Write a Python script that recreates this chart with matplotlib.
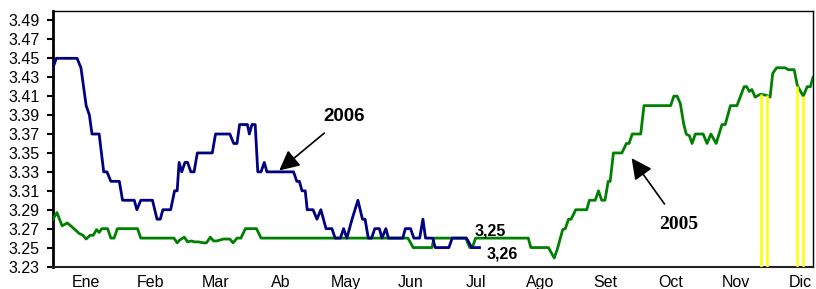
import matplotlib
matplotlib.use("Agg")
import matplotlib.pyplot as plt
import numpy as np

plt.rcParams['font.family'] = ['Liberation Sans', 'DejaVu Sans']

# x positions in fractional months from the start of the axis
months = ["Ene", "Feb", "Mar", "Ab", "May", "Jun", "Jul", "Ago", "Set", "Oct", "Nov", "Dic"]
month_pos = [0.5, 1.5, 2.5, 3.5, 4.5, 5.5, 6.5, 7.5, 8.5, 9.5, 10.5, 11.5]

x2006 = [0.00, 0.05, 0.37, 0.43, 0.51, 0.56, 0.60, 0.71, 0.78, 0.83, 0.89, 1.02, 1.07, 1.25,
         1.29, 1.35, 1.53, 1.60, 1.65, 1.69, 1.81, 1.87, 1.91, 1.94, 1.98, 2.03, 2.07, 2.12,
         2.17, 2.22, 2.45, 2.50, 2.72, 2.78, 2.83, 2.87, 2.99, 3.02, 3.06, 3.11, 3.15, 3.20,
         3.25, 3.29, 3.70, 3.75, 3.79, 3.83, 3.88, 3.91, 4.00, 4.06, 4.12, 4.20, 4.29, 4.34,
         4.42, 4.47, 4.52, 4.60, 4.69, 4.76, 4.80, 4.85, 4.90, 4.95, 5.02, 5.06, 5.12, 5.16,
         5.38, 5.42, 5.50, 5.55, 5.64, 5.69, 5.73, 5.84, 5.88, 6.09, 6.14, 6.36, 6.44, 6.56]
y2006 = [3.44, 3.45, 3.45, 3.44, 3.40, 3.39, 3.37, 3.37, 3.33, 3.33, 3.32, 3.32, 3.30, 3.30,
         3.29, 3.30, 3.30, 3.28, 3.28, 3.29, 3.29, 3.31, 3.31, 3.34, 3.33, 3.34, 3.34, 3.33,
         3.33, 3.35, 3.35, 3.37, 3.37, 3.36, 3.36, 3.38, 3.38, 3.37, 3.38, 3.38, 3.33, 3.33,
         3.34, 3.33, 3.33, 3.32, 3.32, 3.31, 3.31, 3.29, 3.29, 3.28, 3.29, 3.27, 3.27, 3.26,
         3.26, 3.27, 3.26, 3.28, 3.30, 3.28, 3.28, 3.26, 3.26, 3.27, 3.27, 3.26, 3.27, 3.26,
         3.26, 3.27, 3.27, 3.26, 3.26, 3.28, 3.26, 3.26, 3.25, 3.25, 3.26, 3.26, 3.25, 3.25]

x2005 = [0.00, 0.06, 0.14, 0.22, 0.29, 0.40, 0.46, 0.51, 0.57, 0.62, 0.67, 0.71, 0.75, 0.84,
         0.89, 0.94, 0.99, 1.30, 1.35, 1.86, 1.91, 1.95, 2.02, 2.07, 2.13, 2.18, 2.24, 2.31,
         2.36, 2.42, 2.47, 2.52, 2.62, 2.72, 2.77, 2.83, 2.89, 2.96, 3.13, 3.20, 5.46, 5.54,
         5.83, 5.86, 6.35, 6.41, 6.45, 6.50, 7.31, 7.35, 7.62, 7.71, 7.76, 7.84, 7.88, 7.93,
         7.97, 8.04, 8.21, 8.25, 8.34, 8.39, 8.44, 8.49, 8.54, 8.57, 8.62, 8.75, 8.82, 8.86,
         8.91, 9.04, 9.09, 9.50, 9.55, 9.60, 9.65, 9.70, 9.74, 9.79, 9.83, 9.88, 10.00, 10.06,
         10.12, 10.16, 10.20, 10.29, 10.34, 10.42, 10.52, 10.63, 10.67, 10.71, 10.75, 10.80,
         10.88, 10.97, 11.03, 11.07, 11.13, 11.26, 11.31, 11.40, 11.45, 11.54, 11.60, 11.65, 11.69]
y2005 = [3.280, 3.287, 3.273, 3.276, 3.272, 3.265, 3.263, 3.259, 3.263, 3.263, 3.269, 3.266,
         3.270, 3.270, 3.260, 3.260, 3.270, 3.270, 3.260, 3.260, 3.255, 3.258, 3.261, 3.256,
         3.257, 3.256, 3.256, 3.255, 3.255, 3.261, 3.257, 3.257, 3.259, 3.259, 3.255, 3.260,
         3.260, 3.270, 3.270, 3.260, 3.260, 3.250, 3.250, 3.260, 3.260, 3.250, 3.250, 3.260,
         3.260, 3.250, 3.250, 3.239, 3.249, 3.269, 3.270, 3.280, 3.280, 3.290, 3.290, 3.300,
         3.300, 3.310, 3.300, 3.300, 3.320, 3.320, 3.350, 3.350, 3.360, 3.360, 3.370, 3.370,
         3.400, 3.400, 3.410, 3.410, 3.402, 3.381, 3.370, 3.368, 3.360, 3.370, 3.370, 3.360,
         3.370, 3.365, 3.360, 3.380, 3.380, 3.400, 3.400, 3.420, 3.420, 3.415, 3.417, 3.409,
         3.412, 3.411, 3.409, 3.434, 3.440, 3.440, 3.438, 3.438, 3.421, 3.410, 3.420, 3.420, 3.430]

# yellow vertical markers (position, top value)
yellow_x = [10.89, 10.99, 11.44, 11.54]
yellow_top = [3.412, 3.411, 3.421, 3.410]

yticks = [3.23, 3.25, 3.27, 3.29, 3.31, 3.33, 3.35, 3.37, 3.39, 3.41, 3.43, 3.45, 3.47, 3.49]

fig = plt.figure(figsize=(8.16, 2.89), dpi=100)
ax = fig.add_axes([53/816, 1-266.5/289, (813-53)/816, (266.5-11)/289])

ax.plot(x2005, y2005, color="#008000", lw=2.0, solid_joinstyle="round", zorder=3)
ax.plot(x2006, y2006, color="#000080", lw=2.0, solid_joinstyle="round", zorder=4)
ax.vlines(yellow_x, 3.23, yellow_top, colors="#FFFF00", lw=1.8, zorder=5)

ax.set_xlim(0, 11.69)
ax.set_ylim(3.23, 3.50)
ax.set_yticks(yticks)
ax.set_yticklabels([f"{v:.2f}" for v in yticks], fontsize=11.5)
ax.set_xticks(month_pos)
ax.set_xticklabels(months, fontsize=11.5)
ax.tick_params(axis="x", length=0, pad=6)
ax.tick_params(axis="y", length=4.5, width=1.5, direction="out", pad=5)

for s in ["top", "right"]:
    ax.spines[s].set_linewidth(1.0)
ax.spines["left"].set_linewidth(2.0)
ax.spines["bottom"].set_linewidth(1.5)
ax.spines["bottom"].set_color("#222222")

# annotations
ax.annotate("2006", xy=(3.48, 3.3315), xytext=(4.48, 3.3885),
            fontsize=13.5, fontweight="bold", ha="center", va="center",
            arrowprops=dict(arrowstyle="-|>,head_length=0.9,head_width=0.45",
                            color="black", lw=1.2, shrinkA=6, shrinkB=0))
ax.annotate("2005", xy=(8.90, 3.3445), xytext=(9.63, 3.2746),
            fontsize=14, fontweight="bold", family="Liberation Serif",
            ha="center", va="center",
            arrowprops=dict(arrowstyle="-|>,head_length=0.9,head_width=0.45",
                            color="black", lw=1.2, shrinkA=8, shrinkB=0))
ax.text(6.72, 3.2678, "3,25", fontsize=11.5, fontweight="bold", ha="center", va="center")
ax.text(6.91, 3.2436, "3,26", fontsize=11.5, fontweight="bold", ha="center", va="center")

fig.savefig("out.png", dpi=100)
